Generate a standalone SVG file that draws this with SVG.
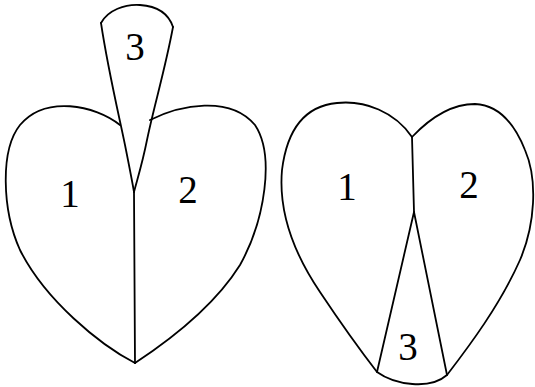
<svg xmlns="http://www.w3.org/2000/svg" width="535" height="387" viewBox="0 0 535 387">
<style>
.ln{fill:none;stroke:#000;stroke-width:1.8;stroke-linejoin:round;stroke-linecap:round}
.lb{font-family:"Liberation Serif","Times New Roman",serif;font-size:39px;fill:#000;text-anchor:middle}
</style>
<rect width="535" height="387" fill="#fff"/>
<g id="left-heart">
<path class="ln" d="M120,125 C95,105 45,95 20,125 C0,150 2,210 20,250 C45,300 100,345 135,363"/>
<path class="ln" d="M150,120 C180,105 230,95 255,125 C275,155 265,220 240,265 C215,305 170,340 135,363"/>
<path class="ln" d="M101,23 C108,70 120,120 125,145 C129,165 132,180 134,192"/>
<path class="ln" d="M173,27 C165,70 153,110 147,140 C142,165 137,180 134,192"/>
<path class="ln" d="M101,23 C108,10 125,4 140,5 C155,6 168,12 173,27"/>
<path class="ln" d="M134,192 L135,363"/>
<text class="lb" x="70" y="207">1</text>
<text class="lb" x="188" y="203">2</text>
<text class="lb" x="135" y="60">3</text>
</g>
<g id="right-heart">
<path class="ln" d="M412,137 C395,112 365,100 337,103 C305,106 287,130 282,170 C278,215 295,255 320,292 C340,322 360,350 377,372 C395,385 430,390 447,375 C470,345 500,305 520,260 C535,225 538,180 525,150 C515,125 500,105 475,104 C450,104 430,118 412,137 Z"/>
<path class="ln" d="M412,137 L414,212"/>
<path class="ln" d="M377,372 L414,212 L447,375"/>
<text class="lb" x="347" y="200">1</text>
<text class="lb" x="469" y="198">2</text>
<text class="lb" x="408" y="360">3</text>
</g>
</svg>
